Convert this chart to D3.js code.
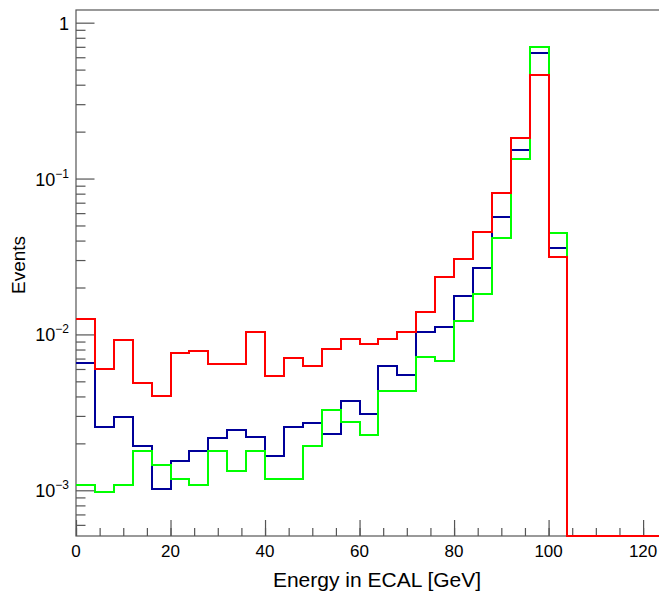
<!DOCTYPE html>
<html>
<head>
<meta charset="utf-8">
<script src="https://cdn.jsdelivr.net/npm/d3@7"></script>
<style>
  body { margin: 0; background: #fff; }
  text { font-family: "Liberation Sans", Arial, sans-serif; fill: #000; }
</style>
</head>
<body>
<script>

// bin edges: 31 bins of 4 GeV from 0 to 124
var binEdges = [0, 4, 8, 12, 16, 20, 24, 28, 32, 36, 40, 44, 48, 52, 56, 60,
                64, 68, 72, 76, 80, 84, 88, 92, 96, 100, 104, 108, 112, 116, 120, 124]

// bin contents (0 = empty bin)
var redValues = [0.0126, 0.0060, 0.0092, 0.0049, 0.0040, 0.0076, 0.0078, 0.0065, 0.0065, 0.0103,
                 0.0054, 0.0071, 0.0063, 0.0081, 0.0094, 0.0087, 0.0093, 0.0103, 0.0139, 0.0235,
                 0.0303, 0.0454, 0.0804, 0.181, 0.462, 0.0312, 0, 0, 0, 0, 0]
var blueValues = [0.00653, 0.00256, 0.00294, 0.00192, 0.00102, 0.00153, 0.00179, 0.00218, 0.00244, 0.00219,
                  0.00165, 0.00255, 0.00269, 0.00230, 0.00372, 0.00307, 0.00630, 0.00552, 0.0104, 0.0112,
                  0.0176, 0.0268, 0.0564, 0.153, 0.636, 0.0358, 0, 0, 0, 0, 0]
var greenValues = [0.00108, 0.00097, 0.00108, 0.00179, 0.00145, 0.00119, 0.00108, 0.00179, 0.00132, 0.00179,
                   0.00119, 0.00119, 0.00193, 0.00326, 0.00273, 0.00226, 0.00436, 0.00436, 0.00717, 0.00676,
                   0.0122, 0.0183, 0.0416, 0.134, 0.702, 0.0446, 0, 0, 0, 0, 0]

var xMajorTicks = [0, 20, 40, 60, 80, 100, 120]
var yDecades = [1e-3, 1e-2, 1e-1, 1]
var yLabels = [["10", "\u22123"], ["10", "\u22122"], ["10", "\u22121"], ["1", ""]]

svgWidth = 659
svgHeight = 595
margin = {"top": 10, "bottom": 59, "left": 76, "right": -3}
chartWidth = svgWidth - (margin.left + margin.right)
chartHeight = svgHeight - (margin.top + margin.bottom)
yMin = 5.09e-4
yMax = 1.206
axisColor = "#555"

xScale = d3.scaleLinear()
            .domain([0, 124])
            .range([margin.left, margin.left + chartWidth])

yScale = d3.scaleLog()
            .domain([yMin, yMax])
            .range([margin.top + chartHeight, margin.top])

var svg = d3.select("body").append("svg")
          .attr("width", svgWidth)
          .attr("height", svgHeight)

svg.append("clipPath").attr("id", "plotClip")
    .append("rect")
      .attr("x", margin.left)
      .attr("y", margin.top - 2)
      .attr("width", chartWidth)
      .attr("height", chartHeight + 4)

// x axis: major + minor ticks pointing inward
xAxisMajor = d3.axisBottom(xScale).tickValues(xMajorTicks).tickSize(-16).tickFormat("")
xAxisMinor = d3.axisBottom(xScale).tickValues(d3.range(0, 125, 5)).tickSize(-8).tickFormat("")

svg.append("g")
    .attr("transform", "translate(0," + (margin.top + chartHeight) + ")")
    .call(xAxisMinor)
svg.append("g")
    .attr("transform", "translate(0," + (margin.top + chartHeight) + ")")
    .call(xAxisMajor)

// y axis: decades + minor ticks at 2..9
var yMinor = []
for (var k = -4; k <= 0; k++) {
  for (var m = 2; m <= 9; m++) {
    var v = m * Math.pow(10, k)
    if (v >= yMin && v <= yMax) yMinor.push(v)
  }
}
yAxisMajor = d3.axisLeft(yScale).tickValues(yDecades).tickSize(-18.5).tickFormat("")
yAxisMinor = d3.axisLeft(yScale).tickValues(yMinor).tickSize(-9.5).tickFormat("")

svg.append("g")
    .attr("transform", "translate(" + margin.left + ",0)")
    .call(yAxisMinor)
svg.append("g")
    .attr("transform", "translate(" + margin.left + ",0)")
    .call(yAxisMajor)

svg.selectAll(".domain").remove()
svg.selectAll(".tick line").attr("stroke", axisColor).attr("stroke-width", 1.2)

// frame
svg.append("rect")
    .attr("x", margin.left)
    .attr("y", margin.top)
    .attr("width", chartWidth)
    .attr("height", chartHeight)
    .attr("fill", "none")
    .attr("stroke", axisColor)
    .attr("stroke-width", 1.2)

// x tick labels
svg.selectAll(".xLabel")
    .data(xMajorTicks)
    .enter().append("text")
      .attr("class", "xLabel")
      .attr("x", function(d) { return xScale(d); })
      .attr("y", margin.top + chartHeight + 21)
      .attr("text-anchor", "middle")
      .attr("font-size", 17)
      .text(function(d) { return d; })

// y tick labels with superscript exponents
var yl = svg.selectAll(".yLabel")
    .data(yDecades)
    .enter().append("text")
      .attr("class", "yLabel")
      .attr("x", margin.left - 7)
      .attr("y", function(d) { return yScale(d) + 7; })
      .attr("text-anchor", "end")
      .attr("font-size", 18)

yl.append("tspan")
    .text(function(d, i) { return yLabels[i][0]; })
yl.append("tspan")
    .attr("font-size", 12)
    .attr("dy", -8)
    .text(function(d, i) { return yLabels[i][1]; })

// axis titles
svg.append("text")
    .attr("x", 377)
    .attr("y", 587)
    .attr("text-anchor", "middle")
    .attr("font-size", 21)
    .text("Energy in ECAL [GeV]")

svg.append("text")
    .attr("transform", "translate(25," + 265 + ") rotate(-90)")
    .attr("text-anchor", "middle")
    .attr("font-size", 19)
    .text("Events")

// histograms as step lines (snapped to whole pixels so the 2px lines stay crisp)
function stepPoints(values) {
  var pts = values.map(function(v, i) { return [binEdges[i], v]; })
  pts.push([binEdges[values.length], values[values.length - 1]])
  return pts
}

var stepLine = d3.line()
    .x(function(d) { return Math.round(xScale(d[0])); })
    .y(function(d) { return Math.round(yScale(Math.max(d[1], yMin))); })
    .curve(d3.curveStepAfter)

var series = [
  {name: "blue", values: blueValues, color: "#000099"},
  {name: "green", values: greenValues, color: "#00ff00"},
  {name: "red", values: redValues, color: "#ff0000"}
]

svg.append("g")
    .attr("clip-path", "url(#plotClip)")
    .selectAll("path")
    .data(series)
    .enter().append("path")
      .attr("d", function(d) { return stepLine(stepPoints(d.values)); })
      .attr("fill", "none")
      .attr("stroke", function(d) { return d.color; })
      .attr("stroke-width", 2)

</script>
</body>
</html>
